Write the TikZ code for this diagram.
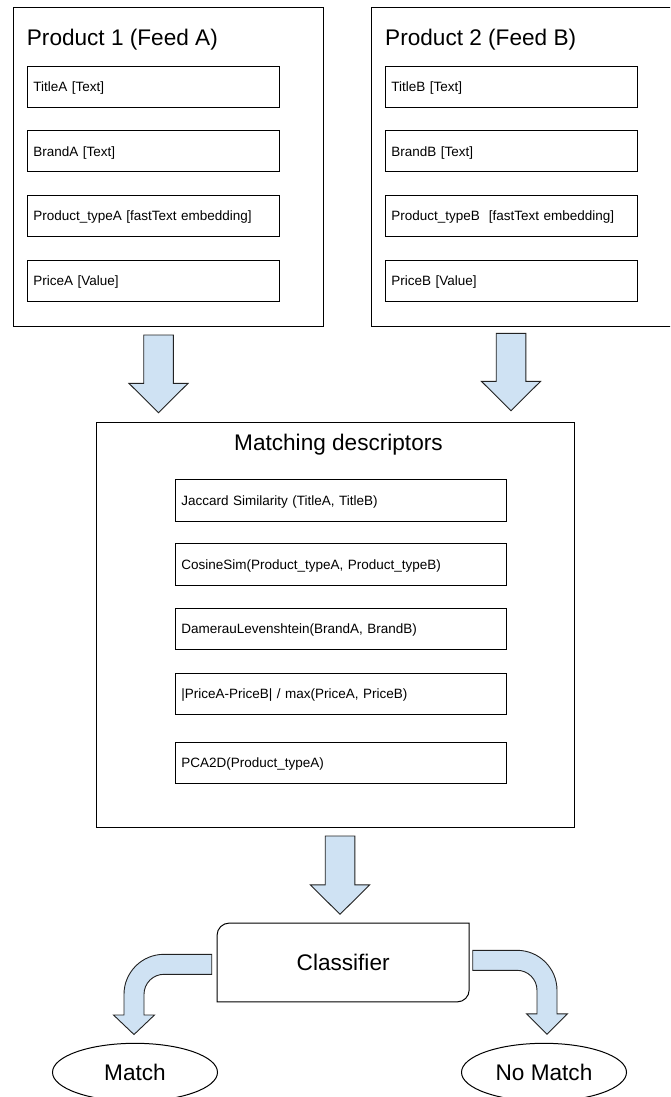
\documentclass[tikz,border=0pt]{standalone}
\usepackage{fontspec}
\setmainfont{Liberation Sans}
\usetikzlibrary{calc,shapes.geometric}

\definecolor{arrowblue}{HTML}{CFE2F3}
\definecolor{edgegray}{HTML}{222222}

\newcommand{\bigsize}{\fontsize{22.6pt}{27pt}\selectfont}
\newcommand{\fieldsize}{\fontsize{13.5pt}{16pt}\selectfont}

% straight block arrow pointing down: centre x, top y, tip y
\newcommand{\blockdown}[3]{%
  \draw[blockarrow] (#1-14.8,#2) -- (#1+14.8,#2) -- (#1+14.8,#3-29.4)
    -- (#1+29.6,#3-29.4) -- (#1,#3) -- (#1-29.6,#3-29.4)
    -- (#1-14.8,#3-29.4) -- cycle;}

\tikzset{
  panel/.style={draw=black, line width=1pt, fill=white, anchor=north west,
    inner sep=0pt},
  heading/.style={anchor=base west, font=\bigsize, inner sep=0pt},
  field/.style={draw=black, line width=1pt, fill=white, anchor=north west,
    inner xsep=5.5pt, inner ysep=0pt, align=left, font=\fieldsize,
    text height=9.7pt, text depth=0pt},
  prodfield/.style={field, text width=240.4pt, minimum height=41pt},
  descfield/.style={field, text width=319.4pt, minimum height=41.7pt},
  blockarrow/.style={draw=edgegray, line width=0.9pt, fill=arrowblue,
    line join=miter},
  outcome/.style={ellipse, draw=black, line width=1pt, inner sep=0pt,
    minimum width=165pt, minimum height=58pt, font=\bigsize,
    text height=16.2pt, text depth=0pt},
}

\begin{document}
\begin{tikzpicture}[x=1pt,y=-1pt]
\clip (0,0) rectangle (670,1097);
\fill[white] (0,0) rectangle (670,1097);

% input feeds
\node[panel, minimum width=310.6pt, minimum height=318.4pt] (pa) at (12.7,7.3) {};
\node[panel, minimum width=310.6pt, minimum height=318.4pt] (pb) at (370.7,7.3) {};
\node[heading] (pat) at (26.7,45.7) {Product 1 (Feed A)};
\node[heading] (pbt) at (385,45.7) {Product 2 (Feed B)};

\node[prodfield] (ta) at (27.3,66)    {TitleA [Text]};
\node[prodfield] (ba) at (27.3,130.3) {BrandA [Text]};
\node[prodfield] (ya) at (27.3,195)   {Product\_typeA [fastText embedding]};
\node[prodfield] (ra) at (27.3,260)   {PriceA [Value]};

\node[prodfield] (tb) at (385.3,66)    {TitleB [Text]};
\node[prodfield] (bb) at (385.3,130.3) {BrandB [Text]};
\node[prodfield] (yb) at (385.3,195)   {Product\_typeB\ \ [fastText embedding]};
\node[prodfield] (rb) at (385.3,260)   {PriceB [Value]};

% feeds into descriptors
\blockdown{158.5}{335}{412.7}
\blockdown{511}{333.3}{410.7}

% matching descriptors
\node[panel, minimum width=478.3pt, minimum height=404.4pt] (md) at (96,422.3) {};
\node[heading] (mdt) at (234,450) {Matching descriptors};

\node[descfield] (d1) at (175.3,479)   {Jaccard Similarity (TitleA, TitleB)};
\node[descfield] (d2) at (175.3,543.3) {CosineSim(Product\_typeA, Product\_typeB)};
\node[descfield] (d3) at (175.3,607.7) {DamerauLevenshtein(BrandA, BrandB)};
\node[descfield] (d4) at (175.3,672.7) {|PriceA-PriceB| / max(PriceA, PriceB)};
\node[descfield] (d5) at (175.3,741.7) {PCA2D(Product\_typeA)};

% descriptors into classifier
\blockdown{340}{836}{914.3}

% classifier: top-left and bottom-right corners rounded
\node[minimum width=251.7pt, minimum height=78.4pt, inner sep=0pt,
  font=\bigsize, text height=16.2pt, text depth=0pt] (cls) at (343.15,962.5) {Classifier};
\draw[black, line width=1pt]
  ($(cls.north west)+(0,12)$) .. controls ($(cls.north west)+(0,5.4)$)
    and ($(cls.north west)+(5.4,0)$) .. ($(cls.north west)+(12,0)$)
  -- (cls.north east)
  -- ($(cls.south east)+(0,-12)$) .. controls ($(cls.south east)+(0,-5.4)$)
    and ($(cls.south east)+(-5.4,0)$) .. ($(cls.south east)+(-12,0)$)
  -- (cls.south west) -- cycle;

% bent arrows to the outcomes
\draw[blockarrow] (211.7,954.3) -- (164,954.3)
  .. controls (141.9,954.3) and (124,972.2) .. (124,994.3)
  -- (124,1015) -- (113.5,1015) -- (134,1034.5) -- (154.5,1015) -- (144,1015)
  -- (144,994.3) .. controls (144,983.25) and (152.95,974.3) .. (164,974.3)
  -- (211.7,974.3) -- cycle;

\draw[blockarrow] (472.7,950.3) -- (517,950.3)
  .. controls (539.1,950.3) and (557,968.2) .. (557,990.3)
  -- (557,1013.8) -- (567.5,1013.8) -- (547,1034.3) -- (526.5,1013.8)
  -- (537,1013.8) -- (537,990.3)
  .. controls (537,979.25) and (528.05,970.3) .. (517,970.3)
  -- (472.7,970.3) -- cycle;

% outcomes
\node[outcome] (match) at (135,1072.3) {Match};
\node[outcome] (nomatch) at (544,1072.3) {No Match};
\end{tikzpicture}
\end{document}
